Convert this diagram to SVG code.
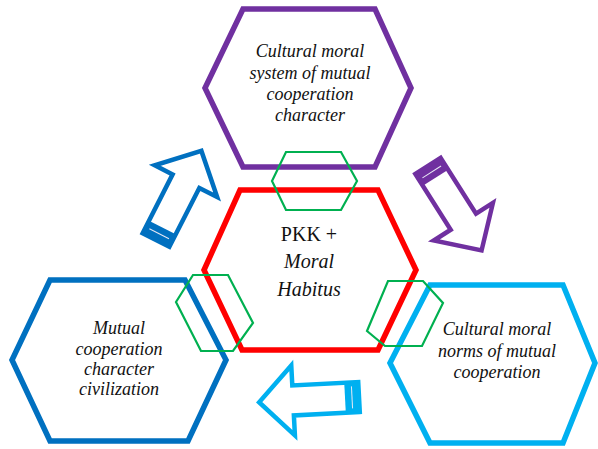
<svg xmlns="http://www.w3.org/2000/svg" xmlns:xlink="http://www.w3.org/1999/xlink" width="598" height="449" viewBox="0 0 598 449">
  <style>
    .hex { fill: none; stroke-linejoin: miter; }
    .big { stroke-width: 5.5; }
    .link { stroke: #00B050; stroke-width: 2.2; fill: none; }
    .lbl { font-family: "Liberation Serif", "Times New Roman", serif; font-size: 18px; fill: #111; text-anchor: middle; }
    .it { font-style: italic; }
    .core { font-size: 20px; }
  </style>
  <defs>
    <!-- block arrow pointing along +x, base at x=0, tip at x=100 -->
    <g id="arrow">
      <path d="M0,-15 L66,-15 L66,-35 L100,0 L66,35 L66,15 L0,15 Z" fill="#fff" stroke="currentColor" stroke-width="4.5" stroke-linejoin="miter"/>
      <rect x="0" y="-15" width="14" height="30" fill="currentColor"/>
      <line x1="7" y1="-11" x2="7" y2="11" stroke="#e8e8f4" stroke-width="1"/>
    </g>
  </defs>

  <g id="connectors">
    <use xlink:href="#arrow" href="#arrow" color="#0070C0" transform="translate(156,240) rotate(-63)"/>
    <use xlink:href="#arrow" href="#arrow" color="#7030A0" transform="translate(428,166) rotate(57.6)"/>
    <use xlink:href="#arrow" href="#arrow" color="#00B0F0" transform="translate(359,397) rotate(177)"/>
  </g>

  <g id="node-top">
    <polygon class="hex big" stroke="#7030A0" points="243,9 375,9 411,88 375,167 243,167 205,88"/>
    <text class="lbl it" x="310" y="57">Cultural moral</text>
    <text class="lbl it" x="310" y="79">system of mutual</text>
    <text class="lbl it" x="310" y="100">cooperation</text>
    <text class="lbl it" x="310" y="121">character</text>
  </g>

  <g id="node-center">
    <polygon class="hex big" stroke="#FF0000" points="240,190 378,190 416,270 378,350 242,350 204,270"/>
    <text class="lbl core" x="309" y="241">PKK +</text>
    <text class="lbl core it" x="309" y="268">Moral</text>
    <text class="lbl core it" x="309" y="296">Habitus</text>
  </g>

  <g id="node-left">
    <polygon class="hex big" stroke="#0070C0" points="50,280 185,280 226,360 188,441 50,441 12,360"/>
    <text class="lbl it" x="119" y="334">Mutual</text>
    <text class="lbl it" x="119" y="355">cooperation</text>
    <text class="lbl it" x="119" y="375">character</text>
    <text class="lbl it" x="119" y="395">civilization</text>
  </g>

  <g id="node-right">
    <polygon class="hex big" stroke="#00B0F0" points="430,285 563,285 595,363 563,443 430,443 390,363"/>
    <text class="lbl it" x="497" y="335">Cultural moral</text>
    <text class="lbl it" x="497" y="357">norms of mutual</text>
    <text class="lbl it" x="497" y="378">cooperation</text>
  </g>

  <g id="link-top">
    <polygon class="link" points="286,152 341,152 357,181 341,210 286,210 272,181"/>
  </g>
  <g id="link-left">
    <polygon class="link" points="193,275 228,275 253,323 233,351 201,351 176,302"/>
  </g>
  <g id="link-right">
    <polygon class="link" points="388,281 423,281 443,303 422,346 385,346 367,331"/>
  </g>
</svg>
